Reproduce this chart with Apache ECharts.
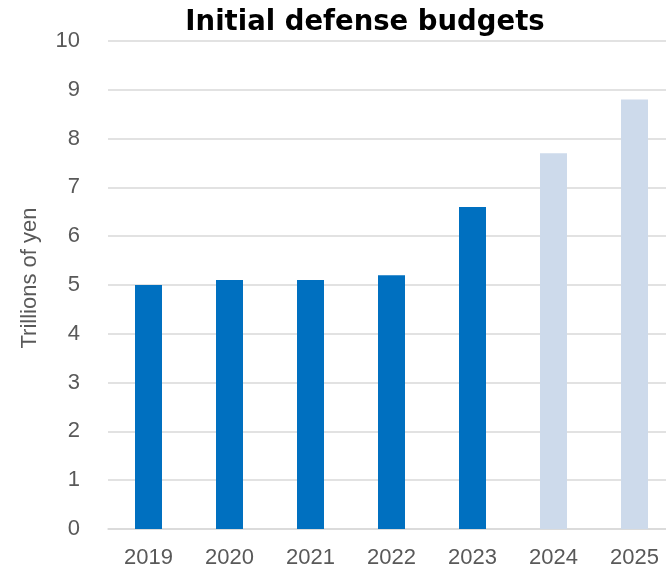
<!DOCTYPE html>
<html><head><meta charset="utf-8">
<script src="https://cdn.jsdelivr.net/npm/echarts@6/dist/echarts.min.js"></script>
<style>html,body{margin:0;padding:0;background:#fff;overflow:hidden}#c{width:675px;height:569px}</style>
</head><body><div id="c"></div>
<script>
const years = ['2019','2020','2021','2022','2023','2024','2025'];
const budgets = [5.0, 5.1, 5.1, 5.2, 6.6, 7.7, 8.8];
const isPlan = [false, false, false, false, false, true, true];
const yTicks = [0,1,2,3,4,5,6,7,8,9,10];

const chart = echarts.init(document.getElementById('c'), null, {renderer:'canvas'});
chart.setOption({
  animation: false,
  title: {
    text: 'Initial defense budgets',
    left: 360, top: 4, textAlign: 'center',
    textStyle: {fontFamily: 'DejaVu Sans', fontWeight: 'bold', fontSize: 27.5, color: '#000'}
  },
  grid: {left: 108, top: 41, right: 0, bottom: 40, containLabel: false},
  xAxis: {
    type: 'category', data: years,
    axisLine: {lineStyle: {color: '#d9d9d9', width: 1.5}},
    axisTick: {show: false},
    axisLabel: {color: '#595959', fontSize: 22, fontFamily: 'Liberation Sans', margin: 18}
  },
  yAxis: {
    type: 'value', min: yTicks[0], max: yTicks[yTicks.length-1], interval: 1,
    name: 'Trillions of yen', nameLocation: 'middle', nameGap: 67,
    nameTextStyle: {color: '#595959', fontSize: 22, fontFamily: 'Liberation Sans', padding: [0, 0, 0, 14]},
    axisLine: {show: false}, axisTick: {show: false},
    splitLine: {lineStyle: {color: '#d9d9d9', width: 1.5}},
    axisLabel: {color: '#595959', fontSize: 22, fontFamily: 'Liberation Sans', margin: 28}
  },
  series: [{
    type: 'bar',
    barWidth: 27,
    data: budgets.map((v, i) => ({value: v, itemStyle: {color: isPlan[i] ? '#cddaeb' : '#0070c0'}}))
  }]
});
</script></body></html>
